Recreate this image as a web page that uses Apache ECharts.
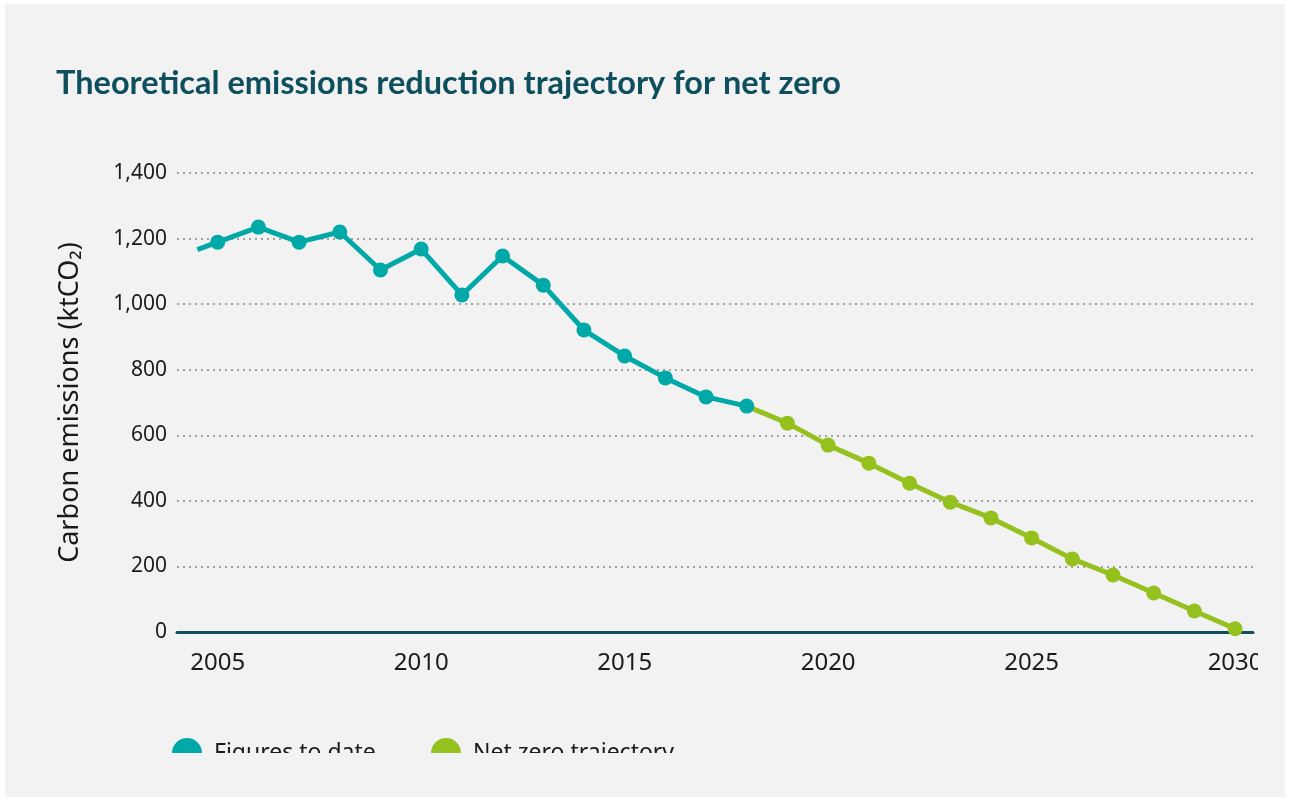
<!DOCTYPE html>
<html>
<head>
<meta charset="utf-8">
<script src="https://cdn.jsdelivr.net/npm/echarts@6/dist/echarts.min.js"></script>
<style>
  html, body { margin: 0; padding: 0; background: #ffffff; width: 1290px; height: 801px; overflow: hidden; }
  #panel { position: absolute; left: 5px; top: 4px; width: 1280px; height: 793px; background: #f2f2f2; }
  #clip { position: absolute; left: 0; top: 0; width: 1258px; height: 753px; overflow: hidden; }
  #chart { position: absolute; left: 0; top: 0; width: 1290px; height: 801px; }
</style>
</head>
<body>
<div id="panel"></div>
<div id="clip"><div id="chart"></div></div>
<script>
const titleText = 'Theoretical emissions reduction trajectory for net zero';
const yAxisName = 'Carbon emissions (ktCO\u2082)';
const seriesNames = ['Figures to date', 'Net zero trajectory'];

const figureYears = [2004.5, 2005, 2006, 2007, 2008, 2009, 2010, 2011, 2012, 2013, 2014, 2015, 2016, 2017, 2018];
const figureValues = [1166, 1189, 1235, 1189, 1220, 1104, 1168, 1028, 1147, 1058, 921, 842, 775, 717, 689];

const trajectoryYears = [2018, 2019, 2020, 2021, 2022, 2023, 2024, 2025, 2026, 2027, 2028, 2029, 2030];
const trajectoryValues = [689, 637, 570, 515, 454, 396, 348, 287, 223, 174, 119, 64, 10];

const yTicks = [0, 200, 400, 600, 800, 1000, 1200, 1400];

const TEAL = '#00a8a8';
const GREEN = '#95c11f';
const DARK = '#0d4f5c';

const figData = figureYears.map((y, i) => {
  const item = { value: [y, figureValues[i]] };
  if (!Number.isInteger(y)) item.symbol = 'none';
  return item;
});
const trajData = trajectoryYears.map((y, i) => {
  const item = { value: [y, trajectoryValues[i]] };
  if (i === 0) item.symbol = 'none';
  return item;
});

const chart = echarts.init(document.getElementById('chart'), null, { renderer: 'canvas' });
chart.setOption({
  backgroundColor: 'transparent',
  animation: false,
  title: {
    text: titleText,
    left: 51,
    top: 62,
    textStyle: { fontFamily: 'Lato', fontWeight: 'bold', fontSize: 32.5, color: DARK }
  },
  legend: [
    {
      left: 172, top: 738, padding: 0,
      data: [seriesNames[0]],
      icon: 'circle', itemWidth: 30, itemHeight: 30,
      textStyle: { fontFamily: 'Noto Sans', fontSize: 23, color: '#1a1a1a', padding: [0, 0, 0, 7] }
    },
    {
      left: 431, top: 738, padding: 0,
      data: [seriesNames[1]],
      icon: 'circle', itemWidth: 30, itemHeight: 30,
      textStyle: { fontFamily: 'Noto Sans', fontSize: 23, color: '#1a1a1a', padding: [0, 0, 0, 7] }
    }
  ],
  grid: { left: 177, right: 37, top: 173, bottom: 169, containLabel: false },
  xAxis: {
    type: 'value',
    min: 2004,
    max: 2030.44,
    interval: 1,
    axisLine: { show: true, onZero: false, lineStyle: { color: DARK, width: 3 } },
    axisTick: { show: false },
    splitLine: { show: false },
    axisLabel: {
      margin: 19,
      fontFamily: 'Noto Sans', fontSize: 24, color: '#1a1a1a',
      showMinLabel: true, showMaxLabel: true,
      formatter: v => (Math.abs(v - Math.round(v)) < 1e-6 && Math.round(v) % 5 === 0) ? String(Math.round(v)) : ''
    }
  },
  yAxis: {
    type: 'value',
    min: 0, max: 1400, interval: 200,
    name: yAxisName,
    nameLocation: 'middle',
    nameGap: 93,
    nameRotate: 90,
    nameTextStyle: { fontFamily: 'Noto Sans', fontSize: 27, color: '#1a1a1a' },
    axisLine: { show: false },
    axisTick: { show: false },
    axisLabel: {
      margin: 10,
      fontFamily: 'Noto Sans', fontSize: 21, color: '#1a1a1a',
      formatter: v => yTicks.includes(v) ? v.toLocaleString('en-US') : ''
    },
    splitLine: { show: true, lineStyle: { color: '#a0a0a0', width: 2, type: [2, 4] } }
  },
  series: [
    {
      name: seriesNames[1],
      type: 'line',
      data: trajData,
      color: GREEN,
      symbol: 'circle', symbolSize: 15,
      lineStyle: { width: 5, color: GREEN },
      itemStyle: { color: GREEN },
      z: 2
    },
    {
      name: seriesNames[0],
      type: 'line',
      data: figData,
      color: TEAL,
      symbol: 'circle', symbolSize: 15,
      lineStyle: { width: 5, color: TEAL },
      itemStyle: { color: TEAL },
      z: 3
    }
  ]
});
</script>
</body>
</html>
